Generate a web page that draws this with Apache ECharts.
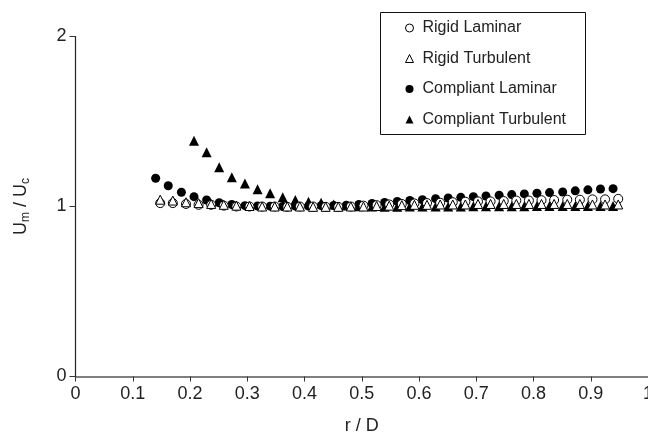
<!DOCTYPE html>
<html>
<head>
<meta charset="utf-8">
<script src="https://cdn.jsdelivr.net/npm/echarts@6/dist/echarts.min.js"></script>
<style>
html,body{margin:0;padding:0;background:#fff;}
#chart{width:648px;height:442px;}
</style>
</head>
<body>
<div id="chart"></div>
<script>
// r/D positions
const rigidX = [0.148,0.170,0.193,0.215,0.237,0.259,0.281,0.304,0.326,0.348,0.370,0.392,0.415,0.437,0.459,0.481,0.503,0.526,0.548,0.570,0.592,0.614,0.637,0.659,0.681,0.703,0.725,0.748,0.770,0.792,0.814,0.836,0.859,0.881,0.903,0.925,0.948];
const compliantX = [0.140,0.162,0.185,0.207,0.229,0.251,0.273,0.296,0.318,0.340,0.362,0.384,0.407,0.429,0.451,0.473,0.495,0.518,0.540,0.562,0.584,0.606,0.629,0.651,0.673,0.695,0.717,0.740,0.762,0.784,0.806,0.828,0.851,0.873,0.895,0.917,0.939];
const compliantTurbX = [0.207,0.229,0.251,0.273,0.296,0.318,0.340,0.362,0.384,0.407,0.429,0.451,0.473,0.495,0.518,0.540,0.562,0.584,0.606,0.629,0.651,0.673,0.695,0.717,0.740,0.762,0.784,0.806,0.828,0.851,0.873,0.895,0.917,0.939];

// Um/Uc values
const rigidLaminar = [1.020,1.020,1.015,1.010,1.010,1.005,1.000,1.000,1.000,1.000,0.998,1.000,1.000,0.998,0.998,1.000,1.005,1.008,1.012,1.015,1.018,1.020,1.022,1.025,1.028,1.030,1.030,1.032,1.035,1.035,1.037,1.038,1.040,1.040,1.042,1.042,1.045];
const rigidTurbulent = [1.040,1.035,1.025,1.020,1.015,1.010,1.005,1.003,1.000,1.000,1.000,1.000,0.998,0.998,0.998,1.000,1.000,1.003,1.005,1.008,1.010,1.010,1.012,1.012,1.012,1.015,1.015,1.015,1.015,1.015,1.015,1.015,1.015,1.015,1.012,1.012,1.012];
const compliantLaminar = [1.166,1.122,1.084,1.058,1.038,1.022,1.012,1.005,1.003,1.002,1.000,1.002,1.003,1.005,1.006,1.008,1.012,1.018,1.024,1.030,1.035,1.040,1.046,1.050,1.054,1.058,1.062,1.066,1.070,1.074,1.078,1.082,1.085,1.092,1.098,1.103,1.105];
const compliantTurbulent = [1.387,1.319,1.231,1.172,1.136,1.101,1.078,1.054,1.038,1.028,1.022,1.012,1.006,1.002,1.000,0.998,0.998,1.000,1.000,1.000,1.000,1.000,1.002,1.002,1.002,1.002,1.002,1.003,1.003,1.003,1.003,1.003,1.003,1.003];

const xTicks = ['0','0.1','0.2','0.3','0.4','0.5','0.6','0.7','0.8','0.9','1'];
const yTicks = ['0','1','2'];

const FONT = '"Liberation Sans", Arial, sans-serif';
const TXT = '#222';

function pairs(xs, ys){ return xs.map((x,i)=>[x, ys[i]]); }

const chart = echarts.init(document.getElementById('chart'), null, {renderer:'canvas'});
chart.setOption({
  animation: false,
  backgroundColor: '#fff',
  textStyle: {fontFamily: FONT},
  grid: {left: 75.5, top: 36.5, right: 0, bottom: 65.5, containLabel: false, outerBoundsMode: 'none'},
  xAxis: {
    type: 'value', min: 0, max: 1, interval: 0.1,
    name: 'r / D', nameLocation: 'middle', nameGap: 41,
    nameTextStyle: {fontSize: 18, color: TXT, fontFamily: FONT},
    axisLine: {show: true, onZero: false, lineStyle: {color: '#555', width: 1.5}},
    axisTick: {show: true, inside: false, length: 5, lineStyle: {color: '#333'}},
    axisLabel: {fontSize: 18, color: TXT, margin: 9, fontFamily: FONT, hideOverlap: false,
      showMaxLabel: true, formatter: v => xTicks[Math.round(v*10)] },
    splitLine: {show: false}
  },
  yAxis: {
    type: 'value', min: 0, max: 2, interval: 1,
    name: '{b|U}{s|m}{b| / U}{s|c}', nameLocation: 'middle', nameGap: 44, nameRotate: 90,
    nameTextStyle: {color: TXT, fontFamily: FONT,
      rich: {
        b: {fontSize: 18, color: TXT, fontFamily: FONT},
        s: {fontSize: 12, color: TXT, fontFamily: FONT, padding: [9,0,0,0]}
      }},
    axisLine: {show: true, lineStyle: {color: '#222', width: 1.2}},
    axisTick: {show: true, inside: false, length: 6, lineStyle: {color: '#333'}},
    axisLabel: {fontSize: 18, color: TXT, margin: 9, fontFamily: FONT,
      formatter: v => yTicks[Math.round(v)] },
    splitLine: {show: false}
  },
  legend: {
    orient: 'vertical', left: 405, top: 19, padding: 0,
    itemWidth: 8, itemHeight: 8, itemGap: 12.5,
    textStyle: {fontSize: 16, color: TXT, fontFamily: FONT, lineHeight: 18, padding: [0,0,0,4]},
    data: [
      {name: 'Rigid Laminar', icon: 'circle', itemStyle: {color: '#fff', borderColor: '#000', borderWidth: 1}},
      {name: 'Rigid Turbulent', icon: 'triangle', itemStyle: {color: '#fff', borderColor: '#000', borderWidth: 1}},
      {name: 'Compliant Laminar', icon: 'circle', itemStyle: {color: '#000', borderColor: '#000', borderWidth: 0}},
      {name: 'Compliant Turbulent', icon: 'triangle', itemStyle: {color: '#000', borderColor: '#000', borderWidth: 0}}
    ]
  },
  graphic: [{
    type: 'rect', shape: {x: 380.5, y: 12.5, width: 205, height: 122},
    style: {fill: 'none', stroke: '#111', lineWidth: 1}, z: 100
  }],
  series: [
    {name: 'Rigid Laminar', type: 'scatter', symbol: 'circle', symbolSize: 9, z: 4,
     itemStyle: {color: '#fff', borderColor: '#000', borderWidth: 1, opacity: 1},
     data: pairs(rigidX, rigidLaminar)},
    {name: 'Rigid Turbulent', type: 'scatter', symbol: 'triangle', symbolSize: 9, z: 5,
     itemStyle: {color: '#fff', borderColor: '#000', borderWidth: 1, opacity: 1},
     data: pairs(rigidX, rigidTurbulent)},
    {name: 'Compliant Laminar', type: 'scatter', symbol: 'circle', symbolSize: 9, z: 2,
     itemStyle: {color: '#000', opacity: 1},
     data: pairs(compliantX, compliantLaminar)},
    {name: 'Compliant Turbulent', type: 'scatter', symbol: 'triangle', symbolSize: 10, z: 3,
     itemStyle: {color: '#000', opacity: 1},
     data: pairs(compliantTurbX, compliantTurbulent)}
  ]
});
</script>
</body>
</html>
